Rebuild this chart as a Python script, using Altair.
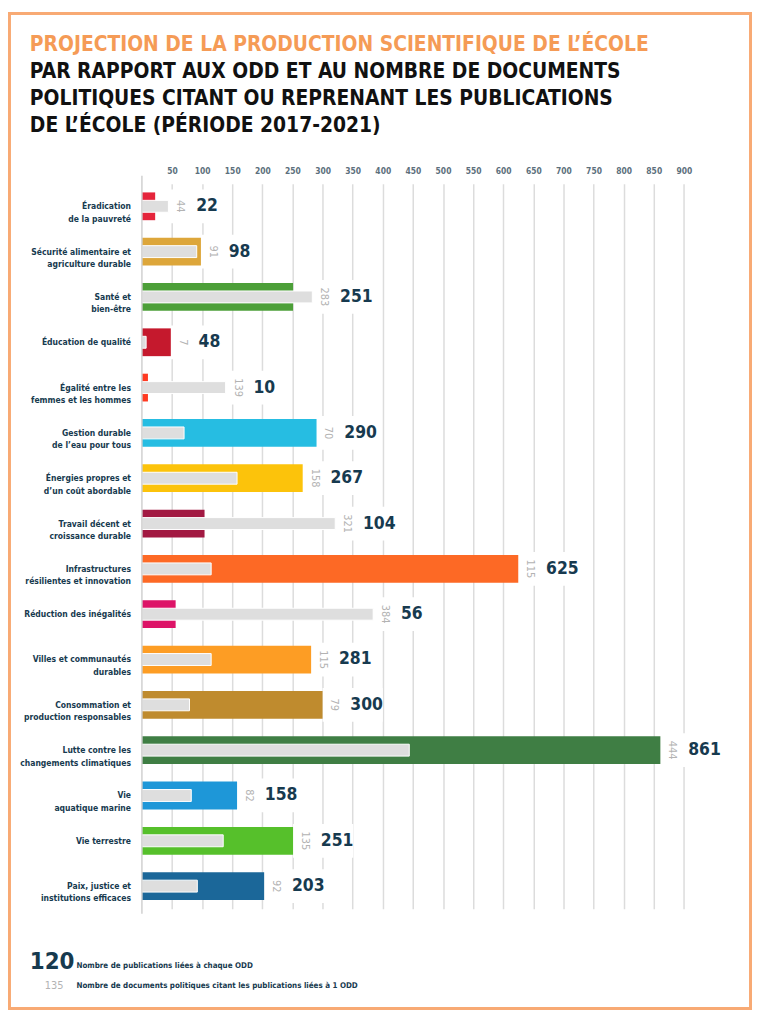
import altair as alt
import pandas as pd

# ---------------- data ----------------
odd = [
    "Éradication\nde la pauvreté",
    "Sécurité alimentaire et\nagriculture durable",
    "Santé et\nbien-être",
    "Éducation de qualité",
    "Égalité entre les\nfemmes et les hommes",
    "Gestion durable\nde l’eau pour tous",
    "Énergies propres et\nd’un coût abordable",
    "Travail décent et\ncroissance durable",
    "Infrastructures\nrésilientes et innovation",
    "Réduction des inégalités",
    "Villes et communautés\ndurables",
    "Consommation et\nproduction responsables",
    "Lutte contre les\nchangements climatiques",
    "Vie\naquatique marine",
    "Vie terrestre",
    "Paix, justice et\ninstitutions efficaces",
]
publications = [22, 98, 251, 48, 10, 290, 267, 104, 625, 56, 281, 300, 861, 158, 251, 203]
documents = [44, 91, 283, 7, 139, 70, 158, 321, 115, 384, 115, 79, 444, 82, 135, 92]
odd_colors = [
    "#E5243B", "#DDA63A", "#4C9F38", "#C5192D", "#FF3A21", "#26BDE2",
    "#FCC30B", "#A21942", "#FD6925", "#DD1367", "#FD9D24", "#BF8B2E",
    "#3F7E44", "#1E97D8", "#56C02B", "#1B6799",
]
tick_values = [50, 100, 150, 200, 250, 300, 350, 400, 450, 500,
               550, 600, 650, 700, 750, 800, 850, 900]

title_line1 = "PROJECTION DE LA PRODUCTION SCIENTIFIQUE DE L’ÉCOLE"
title_rest = ("PAR RAPPORT AUX ODD ET AU NOMBRE DE DOCUMENTS\n"
              "POLITIQUES CITANT OU REPRENANT LES PUBLICATIONS\n"
              "DE L’ÉCOLE (PÉRIODE 2017-2021)")
legend_big = ["120"]
legend_big_text = ["Nombre de publications liées à chaque ODD"]
legend_small = ["135"]
legend_small_text = ["Nombre de documents politiques citant les publications liées à 1 ODD"]

# ---------------- style ----------------
FONT = "DejaVu Sans Condensed, Liberation Sans Narrow, Liberation Sans, sans-serif"
NAVY = "#173a4f"
GREY_TXT = "#b3b3b3"
GREY_BAR = "#dedede"
ORANGE = "#F59B56"
FRAME = "#F8AA74"

W, H = 607, 731
PAD = {"left": 135, "top": 173, "right": 8, "bottom": 102}

df = pd.DataFrame({"odd": odd, "publications": publications, "documents": documents})

xaxis = alt.Axis(
    orient="top", values=tick_values, grid=True, gridColor="#dcdcdc", gridWidth=1.5,
    domain=False, ticks=False, labelPadding=8, labelFont=FONT, labelFontSize=8.5,
    labelFontWeight="bold", labelColor="#5c6f7c", title=None, labelFlush=False,
)
xscale = alt.Scale(domain=[0, 1000], nice=False)
yenc = alt.Y("odd:N", sort=odd, scale=alt.Scale(paddingInner=0, paddingOuter=0), axis=None)

base = alt.Chart(df).transform_calculate(
    maxend="max(datum.publications, datum.documents)",
    boxend="max(datum.publications, datum.documents) + 100",
)

boxes = base.mark_bar(size=34, color="white").encode(
    x=alt.X("maxend:Q", scale=xscale, axis=xaxis),
    x2="boxend:Q",
    y=yenc,
)

bars = base.mark_bar(size=28).encode(
    x=alt.X("publications:Q", scale=xscale, axis=xaxis),
    y=yenc,
    color=alt.Color("odd:N", scale=alt.Scale(domain=odd, range=odd_colors), legend=None),
)

grey = base.mark_bar(size=12, color=GREY_BAR, stroke="white", strokeWidth=1).encode(
    x=alt.X("documents:Q", scale=xscale, axis=xaxis),
    y=yenc,
)

zero_line = alt.Chart(pd.DataFrame({"v": [0]})).mark_rule(
    color="#d0d0d0", strokeWidth=1.5
).encode(x=alt.X("v:Q", scale=xscale, axis=xaxis), y=alt.value(-8), y2=alt.value(H + 5))

doc_labels = base.mark_text(
    angle=90, align="center", baseline="middle", xOffset=12,
    font=FONT, fontSize=11, color=GREY_TXT,
).encode(
    x=alt.X("maxend:Q", scale=xscale, axis=xaxis),
    y=yenc,
    text="documents:Q",
)

pub_labels = base.mark_text(
    align="left", baseline="middle", dx=28,
    font=FONT, fontSize=17.5, fontWeight="bold", color=NAVY,
).encode(
    x=alt.X("maxend:Q", scale=xscale, axis=xaxis),
    y=yenc,
    text="publications:Q",
)

cat_labels = base.mark_text(
    align="right", baseline="middle", lineBreak="\n", lineHeight=12.5,
    font=FONT, fontSize=8.6, fontWeight="bold", color=NAVY,
).encode(
    x=alt.value(-11),
    y=yenc,
    text="odd:N",
)

t1 = alt.Chart(pd.DataFrame({"t": [title_line1]})).mark_text(
    align="left", baseline="alphabetic", font=FONT, fontSize=21, fontWeight="bold", color=ORANGE,
).encode(x=alt.value(-113), y=alt.value(-134), text="t:N")

t2 = alt.Chart(pd.DataFrame({"t": [title_rest]})).mark_text(
    align="left", baseline="alphabetic", lineBreak="\n", lineHeight=27,
    font=FONT, fontSize=21, fontWeight="bold", color="#111111",
).encode(x=alt.value(-113), y=alt.value(-106), text="t:N")

lg1 = alt.Chart(pd.DataFrame({"t": legend_big})).mark_text(
    align="left", baseline="alphabetic", font=FONT, fontSize=24, fontWeight="bold", color=NAVY,
).encode(x=alt.value(-113), y=alt.value(792), text="t:N")
lg1t = alt.Chart(pd.DataFrame({"t": legend_big_text})).mark_text(
    align="left", baseline="alphabetic", font=FONT, fontSize=8, fontWeight="bold", color=NAVY,
).encode(x=alt.value(-66), y=alt.value(791), text="t:N")
lg2 = alt.Chart(pd.DataFrame({"t": legend_small})).mark_text(
    align="right", baseline="alphabetic", font=FONT, fontSize=11, color=GREY_TXT,
).encode(x=alt.value(-79), y=alt.value(812), text="t:N")
lg2t = alt.Chart(pd.DataFrame({"t": legend_small_text})).mark_text(
    align="left", baseline="alphabetic", font=FONT, fontSize=8, fontWeight="bold", color=NAVY,
).encode(x=alt.value(-66), y=alt.value(811), text="t:N")

frame = alt.Chart(pd.DataFrame({"f": [1]})).mark_rect(
    filled=False, stroke=FRAME, strokeWidth=3,
).encode(
    x=alt.value(-PAD["left"] + 1.5), x2=alt.value(W + PAD["right"] - 1.5),
    y=alt.value(-PAD["top"] + 1.5), y2=alt.value(H + PAD["bottom"] - 1.5),
)

chart = alt.layer(
    boxes, bars, grey, zero_line, doc_labels, pub_labels, cat_labels,
    t1, t2, lg1, lg1t, lg2, lg2t, frame,
).properties(
    width=W, height=H, padding=PAD,
    autosize=alt.AutoSizeParams(type="none"),
    background="white",
).configure_view(stroke=None)

chart.save("out.html", embed_options={"renderer": "svg", "actions": False})
